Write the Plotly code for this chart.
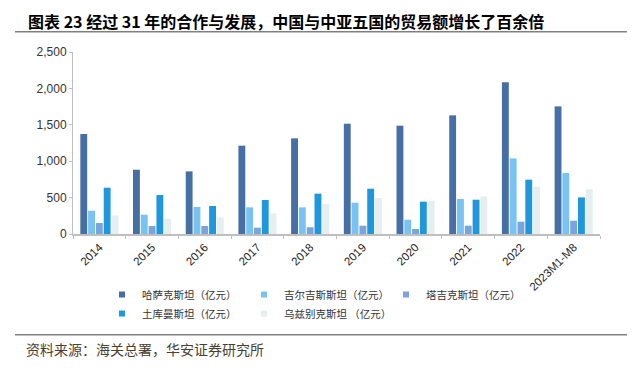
import plotly.graph_objects as go

years = ["2014", "2015", "2016", "2017", "2018", "2019", "2020", "2021", "2022", "2023M1-M8"]
kaz = [1374, 883, 860, 1213, 1314, 1515, 1488, 1630, 2083, 1753]
kyr = [320, 265, 371, 366, 366, 430, 196, 481, 1039, 838]
taj = [151, 110, 110, 87, 92, 114, 69, 114, 169, 183]
turk = [636, 536, 385, 467, 554, 622, 444, 471, 746, 503]
uzb = [256, 210, 228, 283, 412, 494, 458, 517, 650, 613]

names = ["哈萨克斯坦（亿元）", "吉尔吉斯斯坦（亿元）", "塔吉克斯坦（亿元）",
         "土库曼斯坦（亿元）", "乌兹别克斯坦 （亿元）"]
colors = ["#466FA5", "#79C3F2", "#7BA3DC", "#1F97DC", "#E6EEF0"]
series = [kaz, kyr, taj, turk, uzb]

fig = go.Figure()
for n, c, s in zip(names, colors, series):
    fig.add_trace(go.Bar(x=years, y=s, name=n, marker=dict(color=c, line=dict(width=0)),
                         showlegend=False))
for n, c in zip(names, colors):
    fig.add_trace(go.Scatter(x=[None], y=[None], mode="markers", name=n,
                             marker=dict(symbol="square", size=6, color=c)))

# page body has an 8px default margin, so the figure is sized to fit the window
fig.update_layout(
    width=629, height=361,
    margin=dict(l=65, r=37, t=44, b=135, autoexpand=False),
    paper_bgcolor="white", plot_bgcolor="white",
    barmode="group", bargap=0.26, bargroupgap=0.12,
    font=dict(family="Liberation Sans, Arial, sans-serif", color="#333333", size=12),
    xaxis=dict(type="category", showline=True, linecolor="#BFBFBF", linewidth=2,
               ticks="outside", tickson="boundaries", ticklen=3, tickcolor="#BFBFBF",
               tickangle=-45, tickfont=dict(size=11.5, color="#222222"), showgrid=False,
               automargin=False),
    yaxis=dict(range=[0, 2500], dtick=500, tickformat=",", showline=True,
               linecolor="#BFBFBF", linewidth=1, ticks="outside", ticklen=3,
               tickcolor="#BFBFBF", showgrid=False, zeroline=False, automargin=False,
               tickfont=dict(size=12, color="#333333")),
    legend=dict(orientation="h", xref="paper", x=0.055, xanchor="left",
                yref="container", y=0.2465, yanchor="top",
                entrywidth=97, entrywidthmode="pixels",
                font=dict(family="Noto Sans CJK SC", size=10.5, color="#333333"),
                tracegroupgap=0, itemsizing="trace"),
    shapes=[
        dict(type="line", xref="paper", yref="paper", x0=-0.110, x1=1.051,
             y0=1.1115, y1=1.1115, line=dict(color="#7F7F7F", width=1.5)),
        dict(type="line", xref="paper", yref="paper", x0=-0.110, x1=1.051,
             y0=-0.553, y1=-0.553, line=dict(color="#7F7F7F", width=1.5)),
    ],
    annotations=[
        dict(text="<b>图表 23 经过 31 年的合作与发展，中国与中亚五国的贸易额增长了百余倍</b>",
             xref="paper", yref="paper", x=-0.0892, y=1.170, xanchor="left", yanchor="middle",
             showarrow=False, font=dict(family="Noto Sans CJK SC", size=16, color="#000000")),
        dict(text="资料来源：海关总署，华安证券研究所",
             xref="paper", yref="paper", x=-0.093, y=-0.632, xanchor="left", yanchor="middle",
             showarrow=False, font=dict(family="Noto Sans CJK SC", size=14, color="#4A4030")),
    ],
)

fig.write_html("out.html")
